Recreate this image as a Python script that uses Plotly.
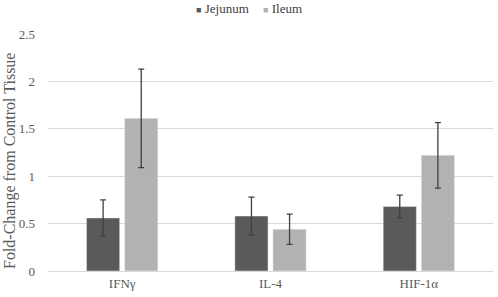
import plotly.graph_objects as go

categories = ["IFNγ", "IL-4", "HIF-1α"]
jejunum = [0.56, 0.58, 0.68]
jejunum_err = [0.19, 0.20, 0.12]
ileum = [1.61, 0.44, 1.22]
ileum_err = [0.52, 0.16, 0.345]
y_ticks = [0, 0.5, 1, 1.5, 2, 2.5]
y_tick_labels = ["0", "0.5", "1", "1.5", "2", "2.5"]
series_names = ["Jejunum", "Ileum"]
series_colors = ["#5a5a5a", "#b2b2b2"]
y_title = "Fold-Change from Control Tissue"

SERIF = "Liberation Serif"
W, H = 498, 297
ML, MR, MT, MB = 48, 5, 34, 26
PW, PH = W - ML - MR, H - MT - MB

fig = go.Figure()
for name, vals, errs, col in zip(series_names, [jejunum, ileum], [jejunum_err, ileum_err], series_colors):
    fig.add_trace(go.Bar(
        name=name, x=categories, y=vals, marker_color=col,
        error_y=dict(type="data", array=errs, color="#404040", thickness=1.3, width=3),
    ))

# legend drawn as text entries at the top centre
legend_x = [222, 282]
for name, col, lx in zip(series_names, series_colors, legend_x):
    fig.add_annotation(
        x=(lx - ML) / PW, y=1 + (MT - 9) / PH,
        xref="paper", yref="paper", showarrow=False, xanchor="center", yanchor="middle",
        text=f"<span style='color:{col};font-size:9px'>■</span> {name}",
        font=dict(family=SERIF, size=13, color="#404040"),
    )

# y-axis title
fig.add_annotation(
    x=(10 - ML) / PW, y=1 - (161 - MT) / PH, xref="paper", yref="paper",
    showarrow=False, textangle=-90, xanchor="center", yanchor="middle",
    text=y_title, font=dict(family=SERIF, size=16, color="#595959"),
)

fig.update_layout(
    width=W, height=H,
    margin=dict(l=ML, r=MR, t=MT, b=MB, autoexpand=False),
    barmode="group", bargap=0.486, bargroupgap=0.13,
    plot_bgcolor="white", paper_bgcolor="white",
    font=dict(family=SERIF, size=13, color="#595959"),
    showlegend=False,
)
fig.update_yaxes(
    range=[0, 2.5], tickvals=y_ticks, ticktext=y_tick_labels,
    showgrid=True, gridcolor="#d9d9d9", gridwidth=1, zeroline=False,
    showline=False, ticks="", ticklabelstandoff=12, automargin=False,
    tickfont=dict(family=SERIF, size=13, color="#595959"),
)
fig.update_xaxes(
    showline=True, linecolor="#d9d9d9", linewidth=1, ticks="", automargin=False,
    tickfont=dict(family=SERIF, size=13, color="#595959"),
)
fig.write_html("out.html", config={"displayModeBar": False},
               post_script="document.body.style.margin='0';")
